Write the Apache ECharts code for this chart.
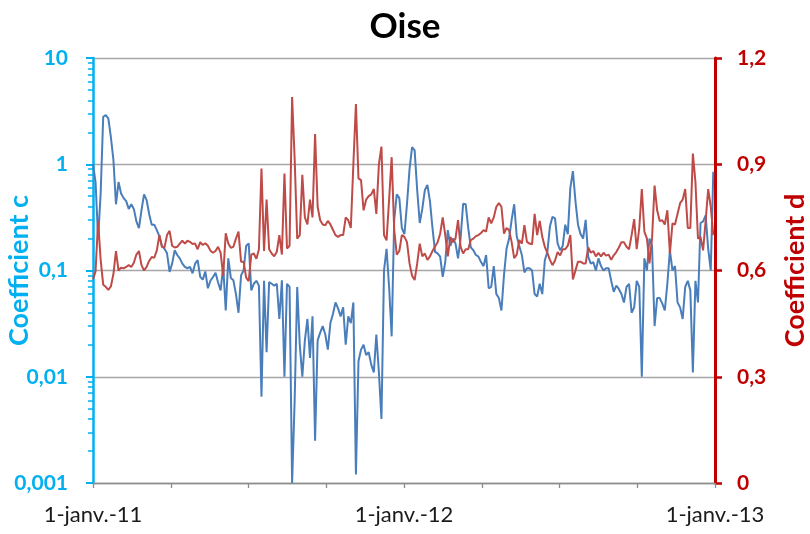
<!DOCTYPE html>
<html>
<head>
<meta charset="utf-8">
<script src="https://cdn.jsdelivr.net/npm/echarts@6/dist/echarts.min.js"></script>
<style>
  html, body { margin: 0; padding: 0; background: #fff; }
  #main { width: 810px; height: 534px; }
</style>
</head>
<body>
<div id="main"></div>
<script>
// one reading every 3 days from 1 Jan 2011
var stepDays = 3;
var totalDays = 731;
var xTickLabels = ['1-janv.-11', '1-janv.-12', '1-janv.-13'];
var cTickLabels = ['0,001', '0,01', '0,1', '1', '10'];
var dTickLabels = ['0', '0,3', '0,6', '0,9', '1,2'];

// Coefficient c (left, log axis)
var coefC = [
  1.0, 0.68, 0.2, 0.53, 2.8, 2.9, 2.7, 1.8, 1.1, 0.42,
  0.68, 0.53, 0.48, 0.45, 0.38, 0.42, 0.38, 0.29, 0.25, 0.37,
  0.52, 0.46, 0.34, 0.27, 0.27, 0.24, 0.21, 0.17, 0.16, 0.145,
  0.097, 0.116, 0.155, 0.14, 0.13, 0.116, 0.108, 0.105, 0.108, 0.094,
  0.116, 0.125, 0.087, 0.082, 0.098, 0.068, 0.08, 0.087, 0.095, 0.077,
  0.065, 0.11, 0.042, 0.13, 0.085, 0.081, 0.06, 0.04, 0.09, 0.10,
  0.17, 0.18, 0.065, 0.075, 0.08, 0.072, 0.0065, 0.08, 0.017, 0.078,
  0.075, 0.072, 0.075, 0.035, 0.081, 0.01, 0.075, 0.07, 0.001, 0.006,
  0.07,
  0.02, 0.01, 0.022, 0.035, 0.015, 0.037, 0.0025, 0.022, 0.026, 0.03,
  0.025, 0.018, 0.032, 0.039, 0.05, 0.044, 0.037, 0.045, 0.02, 0.037,
  0.032, 0.05, 0.0012, 0.014, 0.018, 0.02, 0.016, 0.017, 0.013, 0.011,
  0.025, 0.011, 0.004, 0.1, 0.16, 0.07, 0.024, 0.3, 0.52, 0.48,
  0.25, 0.22,
  0.42, 0.9, 1.45, 1.35, 0.57, 0.28, 0.38, 0.57, 0.64, 0.45,
  0.25, 0.15, 0.145, 0.135, 0.087, 0.12, 0.24, 0.17, 0.2, 0.18,
  0.13, 0.2, 0.425, 0.42, 0.25, 0.165, 0.155, 0.14, 0.135, 0.12,
  0.11, 0.14, 0.068, 0.07, 0.11, 0.06, 0.055, 0.042, 0.09, 0.16,
  0.2,
  0.3, 0.42, 0.21, 0.17, 0.14, 0.096, 0.105, 0.105, 0.1, 0.06,
  0.057, 0.075, 0.06, 0.125, 0.15, 0.26, 0.32, 0.31, 0.18, 0.155,
  0.17, 0.27, 0.22, 0.6, 0.86, 0.45, 0.27, 0.22, 0.2, 0.3,
  0.135, 0.116, 0.12, 0.1, 0.13, 0.11, 0.1, 0.105, 0.105,
  0.08, 0.063, 0.072, 0.067, 0.06, 0.05, 0.07, 0.075, 0.04, 0.045,
  0.08, 0.07, 0.01, 0.13, 0.1, 0.2, 0.17, 0.03, 0.055, 0.055,
  0.049, 0.042, 0.075, 0.155, 0.1, 0.11, 0.05, 0.045, 0.035, 0.07,
  0.08, 0.065, 0.011, 0.08, 0.05, 0.28, 0.29, 0.33, 0.16, 0.1,
  0.85
];

// Coefficient d (right axis)
var coefD = [
  0.575, 0.597, 0.74, 0.63, 0.56, 0.554, 0.545, 0.555, 0.59, 0.655,
  0.60, 0.608, 0.606, 0.61, 0.615, 0.61, 0.622, 0.645, 0.655, 0.615,
  0.60, 0.61, 0.627, 0.638, 0.636, 0.657, 0.70, 0.667, 0.665, 0.70,
  0.712, 0.67, 0.665, 0.667, 0.676, 0.684, 0.676, 0.684, 0.681, 0.675,
  0.676, 0.66, 0.68, 0.672, 0.677, 0.67, 0.656, 0.65, 0.655, 0.667,
  0.65, 0.585, 0.705, 0.676, 0.664, 0.667, 0.69, 0.71, 0.625, 0.625,
  0.58, 0.57, 0.645, 0.648, 0.633, 0.66, 0.888, 0.655, 0.80, 0.66,
  0.648, 0.64, 0.653, 0.70, 0.645, 0.874, 0.662, 0.67, 1.09, 0.915,
  0.69,
  0.70, 0.87, 0.75, 0.73, 0.80, 0.75, 0.985, 0.78, 0.742, 0.73,
  0.728, 0.74, 0.73, 0.715, 0.70, 0.695, 0.70, 0.70, 0.75, 0.742,
  0.72, 0.90, 1.07, 0.86, 0.855, 0.77, 0.80, 0.81, 0.815, 0.83,
  0.76, 0.90, 0.95, 0.70, 0.685, 0.80, 0.92, 0.714, 0.645, 0.655,
  0.70, 0.695,
  0.68, 0.62, 0.585, 0.573, 0.62, 0.676, 0.64, 0.648, 0.63, 0.64,
  0.655, 0.668, 0.68, 0.704, 0.75, 0.70, 0.64, 0.695, 0.68, 0.69,
  0.742, 0.667, 0.648, 0.66, 0.66, 0.686, 0.69, 0.697, 0.70, 0.706,
  0.714, 0.71, 0.75, 0.733, 0.75, 0.78, 0.79, 0.78, 0.704, 0.72,
  0.714,
  0.68, 0.635, 0.645, 0.686, 0.676, 0.728, 0.681, 0.676, 0.674, 0.76,
  0.70, 0.74, 0.695, 0.667, 0.65, 0.63, 0.615, 0.628, 0.652, 0.643,
  0.66, 0.66, 0.67, 0.70, 0.575, 0.6, 0.625, 0.625, 0.62, 0.62,
  0.665, 0.65, 0.655, 0.64, 0.65, 0.64, 0.65, 0.642, 0.645,
  0.63, 0.643, 0.652, 0.665, 0.68, 0.68, 0.667, 0.66, 0.70, 0.745,
  0.66, 0.72, 0.83, 0.71, 0.69, 0.62, 0.69, 0.84, 0.77, 0.74,
  0.742, 0.73, 0.77, 0.648, 0.733, 0.73, 0.76, 0.79, 0.80, 0.83,
  0.72, 0.72, 0.93, 0.85, 0.69, 0.695, 0.657, 0.74, 0.83, 0.78,
  0.70
];

var FONT = 'Lato';
var CYAN = '#00B0F0';
var RED = '#C00000';

// log minor ticks 2..9 in each decade
var minorTicks = [];
[0.001, 0.01, 0.1, 1].forEach(function (base) {
  for (var k = 2; k <= 9; k++) minorTicks.push(+(base * k).toPrecision(3));
});

var chart = echarts.init(document.getElementById('main'), null, { renderer: 'canvas' });

var option = {
  animation: false,
  backgroundColor: '#fff',
  title: {
    text: 'Oise',
    left: 'center',
    top: 4,
    textStyle: { fontFamily: FONT, fontSize: 35, fontWeight: 'bold', color: '#000' }
  },
  grid: { left: 93, right: 95, top: 58, bottom: 51, containLabel: false, outerBoundsMode: 'none' },
  xAxis: {
    type: 'value',
    min: 0,
    max: totalDays,
    interval: totalDays / 8,
    axisLine: { lineStyle: { color: '#8c8c8c', width: 1.3 } },
    axisTick: { show: true, inside: false, length: 5, lineStyle: { color: '#8c8c8c', width: 1.3 } },
    splitLine: { show: false },
    axisLabel: {
      margin: 21,
      fontFamily: FONT,
      fontSize: 22,
      color: '#1a1a1a',
      showMinLabel: true,
      showMaxLabel: true,
      formatter: function (v) {
        var q = Math.round(v / (totalDays / 8));
        if (q % 4 !== 0) return '';
        return xTickLabels[q / 4];
      }
    }
  },
  yAxis: [
    {
      type: 'log',
      logBase: 10,
      min: 0.001,
      max: 10,
      splitNumber: 4,
      position: 'left',
      name: 'Coefficient c',
      nameLocation: 'middle',
      nameGap: 60,
      nameMoveOverlap: false,
      nameTextStyle: { fontFamily: FONT, fontSize: 27, fontWeight: 'bold', color: CYAN },
      axisLine: { show: true, lineStyle: { color: CYAN, width: 2.5 } },
      axisTick: { show: true, inside: false, length: 7, lineStyle: { color: CYAN, width: 2 } },
      splitLine: { show: true, lineStyle: { color: '#a6a6a6', width: 1.3 } },
      axisLabel: {
        margin: 25,
        fontFamily: FONT,
        fontSize: 21,
        fontWeight: 'bold',
        color: CYAN,
        formatter: function (v) {
          return cTickLabels[Math.round(Math.log10(v)) + 3];
        }
      }
    },
    {
      type: 'value',
      min: 0,
      max: 1.2,
      interval: 0.3,
      position: 'right',
      name: 'Coefficient d',
      nameLocation: 'middle',
      nameRotate: 90,
      nameGap: 67,
      nameMoveOverlap: false,
      nameTextStyle: { fontFamily: FONT, fontSize: 27, fontWeight: 'bold', color: RED },
      axisLine: { show: true, lineStyle: { color: RED, width: 3 } },
      axisTick: { show: true, inside: false, length: 7, lineStyle: { color: RED, width: 2.5 } },
      splitLine: { show: false },
      axisLabel: {
        margin: 22,
        fontFamily: FONT,
        fontSize: 21,
        fontWeight: 'bold',
        color: RED,
        formatter: function (v) {
          return dTickLabels[Math.round(v / 0.3)];
        }
      }
    },
    {
      // minor ticks of the log axis
      type: 'log',
      logBase: 10,
      min: 0.001,
      max: 10,
      position: 'left',
      offset: 0,
      axisLine: { show: false },
      axisLabel: { show: false },
      splitLine: { show: false },
      axisTick: {
        show: true,
        inside: false,
        length: 5,
        customValues: minorTicks,
        lineStyle: { color: CYAN, width: 1.5 }
      }
    }
  ],
  series: [
    {
      name: 'Coefficient c',
      type: 'line',
      yAxisIndex: 0,
      showSymbol: false,
      lineStyle: { color: '#4A7EBB', width: 2 },
      itemStyle: { color: '#4A7EBB' },
      data: coefC.map(function (v, i) { return [i * stepDays, v]; })
    },
    {
      name: 'Coefficient d',
      type: 'line',
      yAxisIndex: 1,
      showSymbol: false,
      lineStyle: { color: '#BE4B48', width: 2 },
      itemStyle: { color: '#BE4B48' },
      data: coefD.map(function (v, i) { return [i * stepDays, v]; })
    }
  ]
};

chart.setOption(option);
</script>
</body>
</html>
